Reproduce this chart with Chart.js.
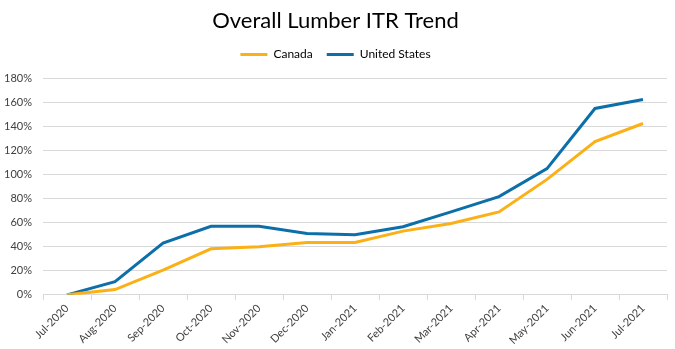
<!DOCTYPE html>
<html>
<head>
<meta charset="utf-8">
<script src="https://cdn.jsdelivr.net/npm/chart.js@4.4.1/dist/chart.umd.min.js"></script>
<style>
html,body{margin:0;padding:0;background:#fff;}
#wrap{width:675px;height:349px;position:relative;}
</style>
</head>
<body>
<div id="wrap"><canvas id="c" width="675" height="349"></canvas></div>
<script>
const categories = ["Jul-2020","Aug-2020","Sep-2020","Oct-2020","Nov-2020","Dec-2020","Jan-2021","Feb-2021","Mar-2021","Apr-2021","May-2021","Jun-2021","Jul-2021"];
const canada = [0, 4.4, 20.5, 38.3, 40, 43.5, 43.5, 53, 59.4, 69, 96, 127.5, 142.5];
const unitedStates = [0, 11, 43, 57, 57, 51, 50, 56.7, 69, 81.7, 105, 155, 162.5];
const yTicks = [0,20,40,60,80,100,120,140,160,180];
const titleText = "Overall Lumber ITR Trend";

const FONT = "Lato, 'Open Sans', sans-serif";
const legendGap = {
  id: 'legendGap',
  beforeInit(chart) {
    const orig = chart.legend.fit;
    chart.legend.fit = function () { orig.bind(chart.legend)(); this.height += 8; };
  }
};
new Chart(document.getElementById('c'), {
  type: 'line',
  data: {
    labels: categories,
    datasets: [
      {label: 'Canada', data: canada, borderColor: '#FBB016', backgroundColor: '#FBB016', borderWidth: 3, pointRadius: 0, tension: 0, fill: false},
      {label: 'United States', data: unitedStates, borderColor: '#0C6FAA', backgroundColor: '#0C6FAA', borderWidth: 3, pointRadius: 0, tension: 0, fill: false}
    ]
  },
  plugins: [legendGap],
  options: {
    responsive: false,
    animation: false,
    devicePixelRatio: 1,
    layout: {padding: {left: 4, right: 8, top: 4, bottom: 0}},
    plugins: {
      title: {display: true, text: titleText, color: '#000', font: {family: FONT, size: 22, weight: 'normal'}, padding: {top: 4, bottom: 0}},
      legend: {
        display: true, position: 'top',
        labels: {usePointStyle: true, pointStyle: 'line', pointStyleWidth: 27, color: '#000', font: {family: FONT, size: 12}, padding: 14, boxHeight: 3}
      },
      tooltip: {enabled: false}
    },
    scales: {
      x: {
        offset: true,
        grid: {display: true, offset: true, drawOnChartArea: false, drawTicks: true, tickLength: 5, color: '#d9d9d9'},
        border: {display: true, color: '#d9d9d9'},
        ticks: {color: '#404040', font: {family: FONT, size: 11}, minRotation: 45, maxRotation: 45, padding: 2}
      },
      y: {
        min: 0, max: 180,
        afterBuildTicks: (ax) => { ax.ticks = yTicks.map(v => ({value: v})); },
        afterFit: (ax) => { ax.width = 39; },
        grid: {color: '#d9d9d9', drawTicks: false},
        border: {display: false},
        ticks: {color: '#404040', font: {family: FONT, size: 11}, padding: 11, callback: v => v + '%'}
      }
    }
  }
});
</script>
</body>
</html>
